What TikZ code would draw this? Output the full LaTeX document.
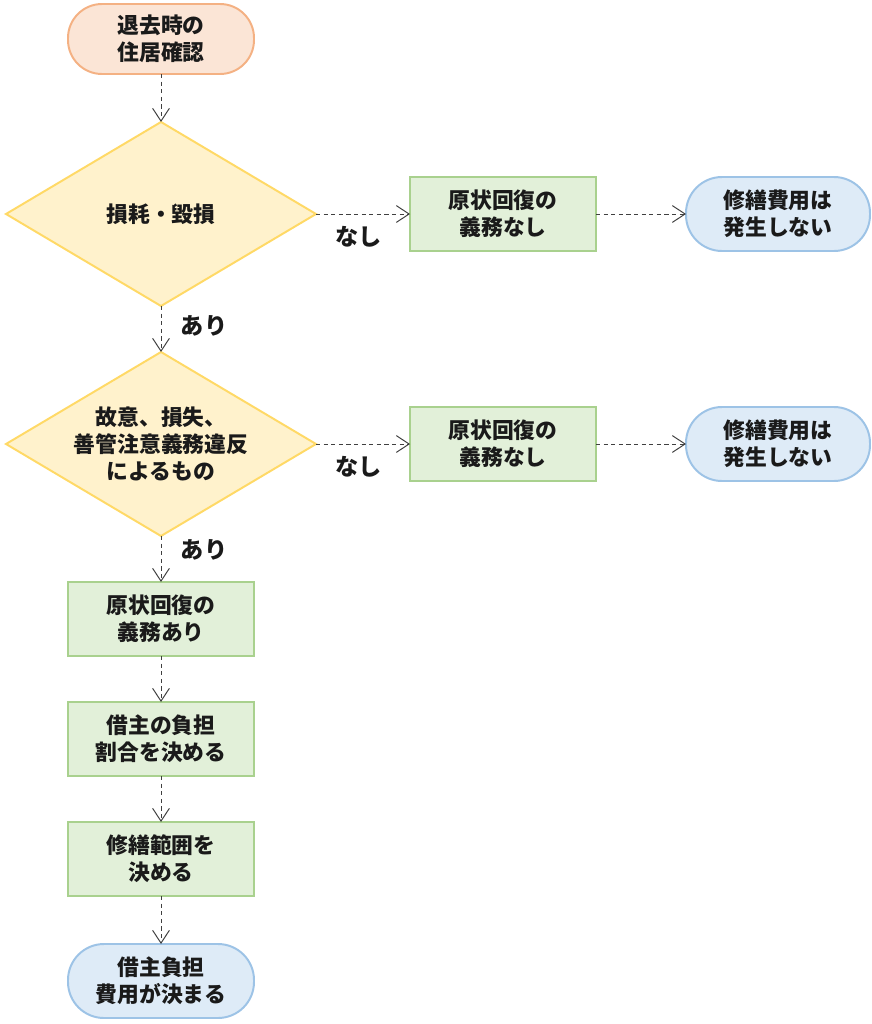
\documentclass[tikz,border=0pt]{standalone}
\usepackage{fontspec}
\setmainfont{Noto Sans CJK JP}
\usetikzlibrary{positioning,shapes.geometric,arrows.meta}
\definecolor{StartFill}{HTML}{FBE5D6}
\definecolor{StartLine}{HTML}{F4B183}
\definecolor{DecFill}{HTML}{FFF2CC}
\definecolor{DecLine}{HTML}{FFD966}
\definecolor{ProcFill}{HTML}{E2F0D9}
\definecolor{ProcLine}{HTML}{A9D18E}
\definecolor{EndFill}{HTML}{DEEBF7}
\definecolor{EndLine}{HTML}{9DC3E6}
\definecolor{Ink}{HTML}{1A1A1A}
\tikzstyle{Inicio}=[rectangle, rounded corners=0.85cm, draw=StartLine, fill=StartFill, line width=1.4pt, outer sep=0pt, minimum width=4.65cm, minimum height=1.75cm, align=center, text=Ink, font=\fontsize{15.5}{19.2}\selectfont\bfseries]
\tikzstyle{Decision}=[diamond, aspect=1.685, draw=DecLine, fill=DecFill, line width=1.4pt, outer sep=0pt, inner sep=-0.15cm, minimum width=7.75cm, minimum height=4.6cm, align=center, text=Ink, font=\fontsize{15.5}{19.2}\selectfont\bfseries]
\tikzstyle{Proceso}=[rectangle, draw=ProcLine, fill=ProcFill, line width=1.4pt, outer sep=0pt, minimum width=4.65cm, minimum height=1.85cm, align=center, text=Ink, font=\fontsize{15.5}{19.2}\selectfont\bfseries]
\tikzstyle{Resultado}=[rectangle, rounded corners=0.9cm, draw=EndLine, fill=EndFill, line width=1.4pt, outer sep=0pt, minimum width=4.6cm, minimum height=1.85cm, align=center, text=Ink, font=\fontsize{15.5}{19.2}\selectfont\bfseries]
\tikzstyle{Flecha}=[draw=black!75, line width=0.7pt, dash pattern=on 3pt off 2.4pt, -{Straight Barb[length=3.2mm, width=4.2mm]}]
\tikzstyle{Etiqueta}=[text=Ink, font=\fontsize{16.5}{20}\selectfont\bfseries, inner sep=1pt]

\begin{document}
\begin{tikzpicture}
			\useasboundingbox (0,0) rectangle (21.8,-25.6);
			%Nodos
			\node[Inicio]		(inicio)	at (4.025,-0.975)			{退去時の\\住居確認};
			\node[Decision]		(danio)		[below=1.2cm of inicio]		{損耗・毀損};
			\node[Proceso]		(sinDeber1)	[right=2.35cm of danio]		{原状回復の\\義務なし};
			\node[Resultado]	(sinCoste1)	[right=2.25cm of sinDeber1]	{修繕費用は\\発生しない};

			\node[Decision]		(culpa)		[below=1.15cm of danio]		{故意、損失、\\善管注意義務違反\\によるもの};
			\node[Proceso]		(sinDeber2)	[right=2.35cm of culpa]		{原状回復の\\義務なし};
			\node[Resultado]	(sinCoste2)	[right=2.25cm of sinDeber2]	{修繕費用は\\発生しない};

			\node[Proceso]		(deber)		[below=1.15cm of culpa]		{原状回復の\\義務あり};
			\node[Proceso]		(reparto)	[below=1.15cm of deber]		{借主の負担\\割合を決める};
			\node[Proceso]		(alcance)	[below=1.15cm of reparto]	{修繕範囲を\\決める};
			\node[Resultado]	(fin)		[below=1.2cm of alcance, minimum width=4.65cm]	{借主負担\\費用が決まる};

			%Flechas
			\draw[Flecha] (inicio) -- (danio);
			\draw[Flecha] (danio.east) -- node[Etiqueta, below=0.25cm, xshift=-0.12cm] {なし} (sinDeber1);
			\draw[Flecha] (sinDeber1) -- (sinCoste1);
			\draw[Flecha] (danio.south) -- node[Etiqueta, right=0.45cm, yshift=0.08cm] {あり} (culpa.north);
			\draw[Flecha] (culpa.east) -- node[Etiqueta, below=0.25cm, xshift=-0.12cm] {なし} (sinDeber2);
			\draw[Flecha] (sinDeber2) -- (sinCoste2);
			\draw[Flecha] (culpa.south) -- node[Etiqueta, right=0.45cm, yshift=0.22cm] {あり} (deber);
			\draw[Flecha] (deber) -- (reparto);
			\draw[Flecha] (reparto) -- (alcance);
			\draw[Flecha] (alcance) -- (fin);
		\end{tikzpicture}
\end{document}
